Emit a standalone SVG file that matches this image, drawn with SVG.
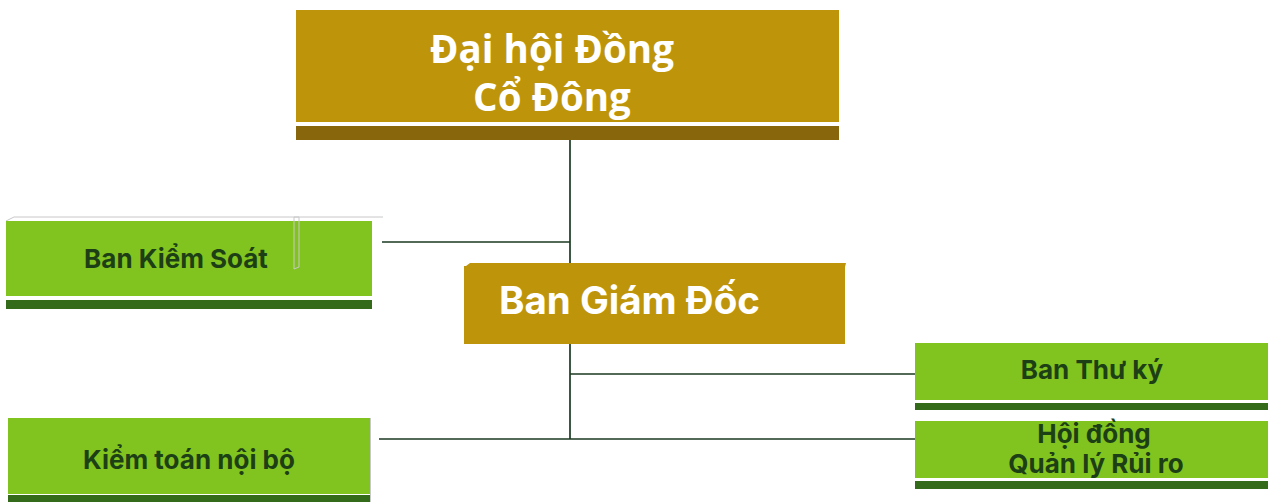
<svg xmlns="http://www.w3.org/2000/svg" width="1268" height="502" viewBox="0 0 1268 502">
<style>
.gold{fill:#BE950A}
.goldd{fill:#87660C}
.green{fill:#82C41F}
.greend{fill:#336B1B}
.wt{font-family:"Open Sans","Noto Sans",sans-serif;font-weight:bold;fill:#FFFFFF;text-anchor:middle}
.gt{font-family:Inter,"Noto Sans",sans-serif;font-weight:bold;fill:#1D3F16;text-anchor:middle;font-size:26px}
.ln{stroke:#1B3A22;stroke-width:1.7;fill:none}
</style>
<rect width="1268" height="502" fill="#FFFFFF"/>
<g id="connectors">
<path class="ln" d="M570,140 V263 M570,344 V439 M382,242 H570 M570,374 H915 M379,439 H915"/>
</g>
<g id="dhdcd">
<rect class="gold" x="296" y="10" width="543" height="112"/>
<rect class="goldd" x="296" y="126" width="543" height="14"/>
<text class="wt" font-size="38.5" x="552" y="63">Đại hội Đồng</text>
<text class="wt" font-size="38.5" x="552" y="111">Cổ Đông</text>
</g>
<g id="bks">
<path d="M6,221 L14,217 H383" fill="none" stroke="#C8C8C8" stroke-width="1"/>
<rect class="green" x="6" y="221" width="366" height="75"/>
<rect class="greend" x="6" y="300" width="366" height="9"/>
<path d="M294,217 V269 L299,267 V217 Z" fill="none" stroke="#C8C8C8" stroke-width="1"/>
<text class="gt" x="176" y="268">Ban Kiểm Soát</text>
</g>
<g id="bgd">
<path class="gold" d="M466,266 L470,263 H846 L845,267 V344 H464 V266 Z"/>
<text style="font-family:Inter,'Noto Sans',sans-serif;font-weight:bold;fill:#FFFFFF" font-size="38.5" x="499" y="314">Ban Giám Đốc</text>
</g>
<g id="btk">
<rect class="green" x="915" y="343" width="353" height="57"/>
<rect class="greend" x="915" y="403" width="353" height="7"/>
<text class="gt" x="1092" y="379">Ban Thư ký</text>
</g>
<g id="hdqlrr">
<rect class="green" x="915" y="421" width="353" height="57"/>
<rect class="greend" x="915" y="481" width="353" height="8"/>
<text class="gt" x="1094" y="443">Hội đồng</text>
<text class="gt" x="1096" y="473">Quản lý Rủi ro</text>
</g>
<g id="ktnb">
<rect class="green" x="8" y="418" width="362" height="76"/>
<rect class="greend" x="8" y="495" width="362" height="7"/>
<line x1="370.5" y1="418" x2="370.5" y2="502" stroke="#C8C8C8" stroke-width="1"/>
<text class="gt" x="189" y="469">Kiểm toán nội bộ</text>
</g>
</svg>
